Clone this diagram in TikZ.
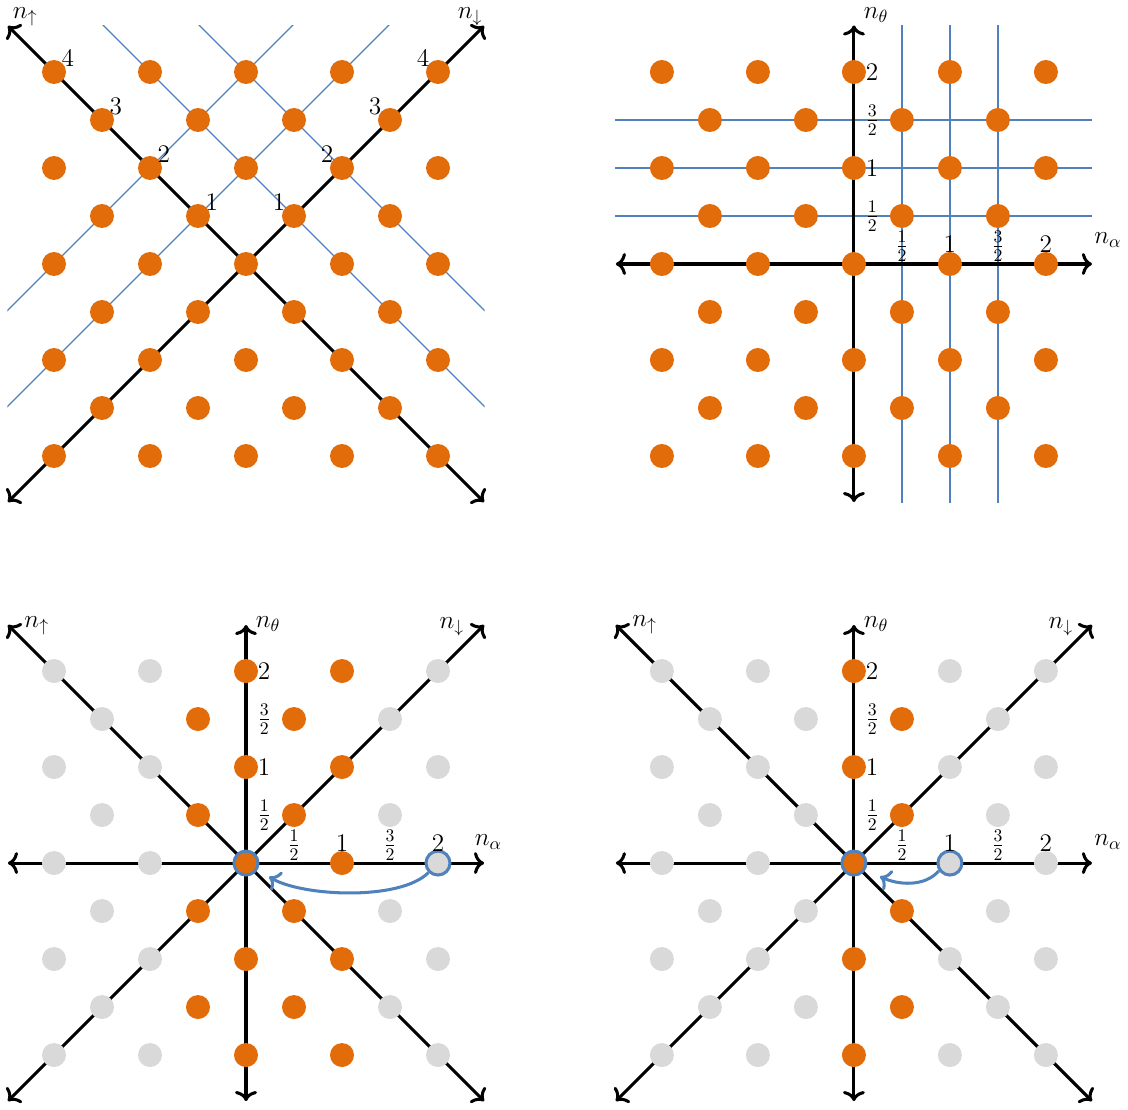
\RequirePackage{fix-cm}
\documentclass[tikz,border=0pt]{standalone}
\usetikzlibrary{arrows.meta}
\definecolor{dotor}{RGB}{227,108,10}
\definecolor{dotgr}{RGB}{217,217,217}
\definecolor{lnblue}{RGB}{79,129,189}
\tikzset{
  >={To[length=6pt,width=13pt]},
  axisline/.style={line width=1.8pt, <->, black},
  gridline/.style={lnblue, line width=0.75pt},
  dot/.style={circle, inner sep=0pt, minimum size=0.5cm, draw=none},
  ring/.style={circle, inner sep=0pt, minimum size=0.5cm, draw=lnblue, line width=1.8pt},
  curvarrow/.style={lnblue, line width=1.8pt, ->},
  lbl/.style={inner sep=0pt, font=\fontsize{15}{18}\selectfont},
}
% #1 prefix, #2 min orange x, #3 max orange x, #4 x of ringed grey dot (99 = none)
\newcommand{\dotlattice}[4]{%
  \foreach \yy in {-4,...,4}{%
    \foreach \xx in {-4,...,4}{%
      \pgfmathtruncatemacro{\parity}{mod(\xx+\yy+8,2)}%
      \ifnum\parity=0
        \def\dc{dotor}%
        \ifnum\xx<#2 \def\dc{dotgr}\fi
        \ifnum\xx>#3 \def\dc{dotgr}\fi
        \def\dstyle{dot}%
        \ifnum\yy=0 \ifnum#4<99 \ifnum\xx=0 \def\dstyle{ring}\fi\ifnum\xx=#4 \def\dstyle{ring}\fi\fi\fi
        \node[\dstyle, fill=\dc] (#1x\xx y\yy) at (\xx,\yy) {};
      \fi
    }%
  }%
}
\newcommand{\ticklabels}[1]{%
  \node[lbl, anchor=west] (#1v1) at (0.24,1) {$\frac12$};
  \node[lbl, anchor=west] (#1v2) at (0.24,2) {$1$};
  \node[lbl, anchor=west] (#1v3) at (0.24,3) {$\frac32$};
  \node[lbl, anchor=west] (#1v4) at (0.24,4) {$2$};
  \node[lbl, anchor=base] (#1h1) at (1,0.24) {$\frac12$};
  \node[lbl, anchor=base] (#1h2) at (2,0.24) {$1$};
  \node[lbl, anchor=base] (#1h3) at (3,0.24) {$\frac32$};
  \node[lbl, anchor=base] (#1h4) at (4,0.24) {$2$};
}
\newcommand{\allaxes}[1]{%
  \coordinate (#1d1) at (-4.96,-4.96); \coordinate (#1d2) at (4.96,4.96);
  \coordinate (#1e1) at (4.96,-4.96);  \coordinate (#1e2) at (-4.96,4.96);
  \coordinate (#1h1a) at (-4.96,0);    \coordinate (#1h2a) at (4.96,0);
  \coordinate (#1v1a) at (0,-4.96);    \coordinate (#1v2a) at (0,4.96);
  \draw[axisline] (#1d1) -- (#1d2);
  \draw[axisline] (#1e1) -- (#1e2);
  \draw[axisline] (#1h1a) -- (#1h2a);
  \draw[axisline] (#1v1a) -- (#1v2a);
}
\begin{document}
\begin{tikzpicture}
\useasboundingbox (0,0) rectangle (23.5,-23.125);

% ---------------- top left ----------------
\begin{scope}[shift={(5.125,-5.5)}]
  \begin{scope}
    \clip (-4.97,-4.97) rectangle (4.97,4.97);
    \draw[gridline] (-6,-2) -- (2,6);
    \draw[gridline] (-6,-4) -- (4,6);
    \draw[gridline] (-4,6) -- (6,-4);
    \draw[gridline] (-2,6) -- (6,-2);
  \end{scope}
  \coordinate (tld1) at (-4.96,-4.96); \coordinate (tld2) at (4.96,4.96);
  \coordinate (tle1) at (4.96,-4.96);  \coordinate (tle2) at (-4.96,4.96);
  \draw[axisline] (tld1) -- (tld2);
  \draw[axisline] (tle1) -- (tle2);
  \dotlattice{tl}{-9}{9}{99}
  \node[lbl] (tlnu) at (-4.60,5.15) {$n_\uparrow$};
  \node[lbl] (tlnd) at (4.67,5.15) {$n_\downarrow$};
  \foreach \k in {1,...,4}{
    \node[lbl] (tlu\k) at (-\k+0.29,\k+0.29) {$\k$};
    \node[lbl] (tlw\k) at (\k-0.31,\k+0.29) {$\k$};
  }
\end{scope}

% ---------------- top right ----------------
\begin{scope}[shift={(17.79,-5.5)}]
  \foreach \k in {1,2,3}{
    \draw[gridline] (-4.97,\k) -- (4.97,\k);
    \draw[gridline] (\k,-4.97) -- (\k,4.97);
  }
  \coordinate (trh1) at (-4.96,0); \coordinate (trh2) at (4.96,0);
  \coordinate (trv1) at (0,-4.96); \coordinate (trv2) at (0,4.97);
  \draw[axisline] (trh1) -- (trh2);
  \draw[axisline] (trv1) -- (trv2);
  \dotlattice{tr}{-9}{9}{99}
  \ticklabels{tr}
  \node[lbl] (trnt) at (0.46,5.18) {$n_\theta$};
  \node[lbl] (trna) at (5.29,0.5) {$n_\alpha$};
\end{scope}

% ---------------- bottom left ----------------
\begin{scope}[shift={(5.125,-17.98)}]
  \allaxes{bl}
  \dotlattice{bl}{-1}{2}{4}
  \ticklabels{bl}
  \node[lbl] (blnu) at (-4.36,4.94) {$n_\uparrow$};
  \node[lbl] (blnd) at (4.29,4.92) {$n_\downarrow$};
  \node[lbl] (blnt) at (0.46,4.98) {$n_\theta$};
  \node[lbl] (blna) at (5.05,0.44) {$n_\alpha$};
  \draw[curvarrow, shorten >=7.9pt] (blx4y0.225) .. controls +(-0.6,-0.6) and +(0.9,-0.55) .. (blx0y0.-30);
\end{scope}

% ---------------- bottom right ----------------
\begin{scope}[shift={(17.79,-17.98)}]
  \allaxes{br}
  \dotlattice{br}{0}{1}{2}
  \ticklabels{br}
  \node[lbl] (brnu) at (-4.36,4.96) {$n_\uparrow$};
  \node[lbl] (brnd) at (4.31,4.92) {$n_\downarrow$};
  \node[lbl] (brnt) at (0.46,4.98) {$n_\theta$};
  \node[lbl] (brna) at (5.29,0.44) {$n_\alpha$};
  \draw[curvarrow, shorten >=9.4pt] (brx2y0.215) .. controls +(-0.3,-0.35) and +(0.66,-0.31) .. (brx0y0.-30);
\end{scope}
\end{tikzpicture}
\end{document}
